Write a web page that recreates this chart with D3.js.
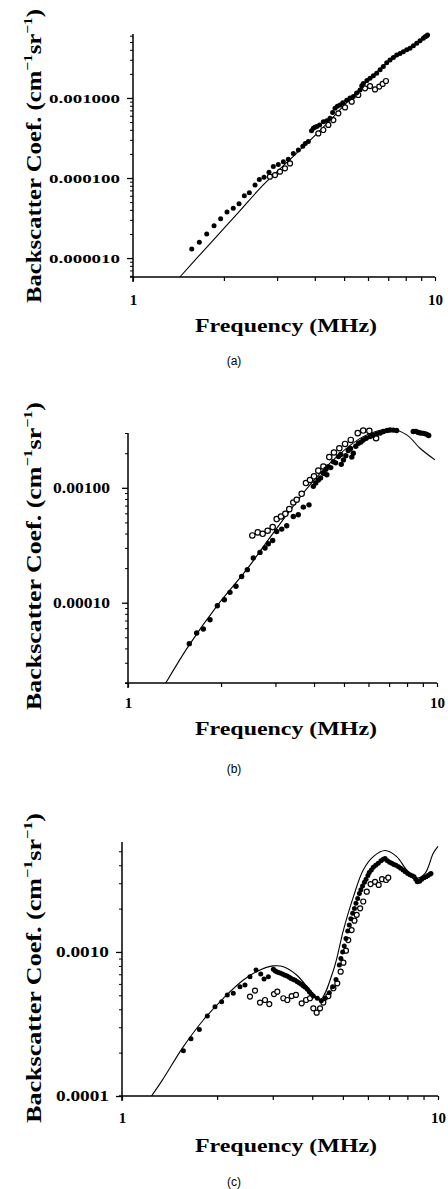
<!DOCTYPE html>
<html>
<head>
<meta charset="utf-8">
<script src="https://cdn.jsdelivr.net/npm/d3@7"></script>
<style>
  html, body { margin: 0; padding: 0; background: #fff; }
  svg { display: block; }
</style>
</head>
<body>
<svg id="chart" width="448" height="1189"></svg>
<script>
// ---------------- DATA ----------------
// Panel (a)
const fitFreqA = [1.43, 1.8, 2.2, 2.7, 3.2, 3.8, 4.5, 5.2, 6.0, 7.0, 8.0, 9.6];
const fitCoefA = [5.8e-6, 1.52e-5, 3.49e-5, 8.2e-5, 1.51e-4, 2.8e-4, 5.3e-4, 9.5e-4, 1.65e-3, 2.85e-3, 3.9e-3, 6.1e-3];
const filledFreqA = [1.565, 1.658, 1.754, 1.855, 1.951, 2.048, 2.148, 2.244, 2.337, 2.428, 2.535, 2.62, 2.716, 2.82, 2.915, 3.028, 3.146, 3.268, 3.396, 3.527, 3.65, 3.72, 3.807, 3.9, 3.955, 4.0, 4.058, 4.15, 4.268, 4.38, 4.49, 4.58, 4.666, 4.75, 4.846, 4.95, 5.1, 5.23, 5.366, 5.5, 5.646, 5.72, 5.791, 5.95, 6.093, 6.25, 6.41, 6.58, 6.745, 6.92, 7.096, 7.28, 7.466, 7.66, 7.855, 8.06, 8.264, 8.48, 8.7, 8.92, 9.15, 9.27, 9.38, 9.45];
const filledCoefA = [1.30e-5, 1.58e-5, 2.0e-5, 2.54e-5, 3.10e-5, 3.76e-5, 4.18e-5, 4.78e-5, 6.0e-5, 6.56e-5, 8.2e-5, 9.6e-5, 1.02e-4, 1.18e-4, 1.39e-4, 1.48e-4, 1.60e-4, 1.71e-4, 2.03e-4, 2.24e-4, 2.5e-4, 2.7e-4, 2.85e-4, 3.9e-4, 4.18e-4, 4.3e-4, 4.39e-4, 4.6e-4, 5.06e-4, 5.2e-4, 5.57e-4, 6.6e-4, 7.43e-4, 7.9e-4, 8.2e-4, 8.7e-4, 9.4e-4, 1.0e-3, 1.04e-3, 1.15e-3, 1.26e-3, 1.42e-3, 1.52e-3, 1.65e-3, 1.76e-3, 1.9e-3, 2.03e-3, 2.25e-3, 2.47e-3, 2.75e-3, 2.99e-3, 3.2e-3, 3.45e-3, 3.6e-3, 3.79e-3, 4.0e-3, 4.18e-3, 4.5e-3, 4.82e-3, 5.2e-3, 5.57e-3, 5.8e-3, 5.96e-3, 6.1e-3];
const openFreqA = [2.84, 2.953, 3.067, 3.186, 3.311, 4.109, 4.268, 4.435, 4.607, 4.786, 5.035, 5.30, 5.573, 5.865, 6.093, 6.33, 6.54, 6.71, 6.88];
const openCoefA = [1.04e-4, 1.09e-4, 1.20e-4, 1.32e-4, 1.52e-4, 3.61e-4, 3.98e-4, 4.6e-4, 5.3e-4, 6.43e-4, 7.63e-4, 9.0e-4, 1.09e-3, 1.32e-3, 1.41e-3, 1.28e-3, 1.39e-3, 1.50e-3, 1.63e-3];
const yTicksA = [1e-5, 1e-4, 1e-3];
const yTickLabelsA = ["0.000010", "0.000100", "0.001000"];

// Panel (b)
const fitFreqB = [1.325, 1.567, 1.936, 2.42, 2.95, 3.88, 4.74, 5.77, 7.04, 7.98, 8.81, 9.85];
const fitCoefB = [2.0e-5, 4.17e-5, 9.3e-5, 1.94e-4, 4.03e-4, 1.06e-3, 1.87e-3, 2.79e-3, 3.25e-3, 2.89e-3, 2.21e-3, 1.75e-3];
const filledFreqB = [1.579, 1.668, 1.753, 1.843, 1.946, 2.05, 2.138, 2.236, 2.333, 2.433, 2.544, 2.674, 2.776, 2.846, 2.939, 3.028, 3.144, 3.263, 3.428, 3.557, 3.693, 3.853, 3.98, 4.05, 4.13, 4.2, 4.29, 4.37, 4.4, 4.45, 4.53, 4.62, 4.7, 4.80, 4.88, 4.9, 4.98, 5.07, 5.16, 5.25, 5.3, 5.36, 5.46, 5.57, 5.67, 5.77, 5.9, 6.07, 6.2, 6.38, 6.55, 6.71, 6.9, 7.05, 7.22, 7.40, 8.38, 8.55, 8.70, 8.85, 9.03, 9.18, 9.33, 9.4];
const filledCoefB = [4.40e-5, 5.45e-5, 5.9e-5, 7.1e-5, 9.4e-5, 1.06e-4, 1.23e-4, 1.39e-4, 1.69e-4, 1.94e-4, 2.45e-4, 2.74e-4, 2.99e-4, 3.26e-4, 3.48e-4, 4.17e-4, 4.37e-4, 4.67e-4, 5.63e-4, 5.82e-4, 6.79e-4, 7.11e-4, 1.03e-3, 1.1e-3, 1.17e-3, 1.22e-3, 1.34e-3, 1.45e-3, 1.3e-3, 1.53e-3, 1.5e-3, 1.69e-3, 1.65e-3, 1.87e-3, 1.95e-3, 1.6e-3, 1.75e-3, 1.9e-3, 2.11e-3, 2.2e-3, 1.85e-3, 2.0e-3, 2.3e-3, 2.44e-3, 2.5e-3, 2.61e-3, 2.7e-3, 2.79e-3, 2.85e-3, 2.95e-3, 3.0e-3, 3.09e-3, 3.15e-3, 3.19e-3, 3.18e-3, 3.15e-3, 3.09e-3, 3.1e-3, 3.03e-3, 3.0e-3, 2.98e-3, 2.95e-3, 2.89e-3, 2.85e-3];
const openFreqB = [2.526, 2.629, 2.728, 2.831, 2.939, 3.028, 3.127, 3.23, 3.327, 3.428, 3.515, 3.648, 3.767, 3.882, 4.0, 4.13, 4.29, 4.48, 4.64, 4.83, 5.04, 5.26, 5.54, 5.77, 6.04, 6.35];
const openCoefB = [3.85e-4, 4.09e-4, 3.98e-4, 4.23e-4, 4.55e-4, 5.34e-4, 5.63e-4, 5.94e-4, 6.52e-4, 7.45e-4, 7.87e-4, 8.87e-4, 1.10e-3, 1.17e-3, 1.26e-3, 1.41e-3, 1.53e-3, 1.85e-3, 2.03e-3, 2.21e-3, 2.41e-3, 2.61e-3, 2.99e-3, 3.15e-3, 3.13e-3, 2.70e-3];
const yTicksB = [1e-4, 1e-3];
const yTickLabelsB = ["0.00010", "0.00100"];

// Panel (c)
const fitFreqC = [1.24, 1.345, 1.564, 1.809, 2.093, 2.421, 2.734, 3.013, 3.24, 3.57, 3.93, 4.23, 4.67, 5.02, 5.40, 5.80, 6.24, 6.80, 7.40, 7.96, 8.56, 9.10, 9.66, 10.0];
const fitCoefC = [1.0e-4, 1.30e-4, 2.20e-4, 3.37e-4, 4.77e-4, 6.39e-4, 7.5e-4, 8.0e-4, 7.9e-4, 6.92e-4, 5.45e-4, 4.64e-4, 7.5e-4, 1.42e-3, 2.42e-3, 3.71e-3, 4.59e-3, 5.06e-3, 4.59e-3, 3.71e-3, 3.25e-3, 3.51e-3, 4.84e-3, 5.4e-3];
const filledFreqC = [1.564, 1.653, 1.757, 1.862, 1.969, 2.067, 2.154, 2.25, 2.362, 2.45, 2.541, 2.655, 2.748, 2.815, 2.905, 3.013, 3.05, 3.087, 3.13, 3.178, 3.23, 3.281, 3.33, 3.384, 3.43, 3.485, 3.53, 3.588, 3.64, 3.694, 3.75, 3.803, 3.86, 3.916, 3.97, 4.032, 4.151, 4.273, 4.4, 4.53, 4.642, 4.756, 4.873, 4.93, 4.992, 5.05, 5.115, 5.18, 5.24, 5.3, 5.37, 5.44, 5.5, 5.57, 5.64, 5.7, 5.77, 5.85, 5.92, 6.0, 6.06, 6.15, 6.24, 6.35, 6.47, 6.6, 6.71, 6.8, 6.92, 7.03, 7.14, 7.25, 7.36, 7.5, 7.62, 7.75, 7.88, 8.02, 8.15, 8.28, 8.4, 8.5, 8.6, 8.75, 8.88, 9.02, 9.16, 9.3, 9.43, 9.5];
const filledCoefC = [2.06e-4, 2.50e-4, 2.90e-4, 3.59e-4, 4.17e-4, 4.52e-4, 5.03e-4, 5.16e-4, 5.74e-4, 5.9e-4, 6.74e-4, 7.5e-4, 7.03e-4, 6.49e-4, 6.74e-4, 7.58e-4, 7.4e-4, 7.3e-4, 7.2e-4, 7.11e-4, 7.0e-4, 6.89e-4, 6.8e-4, 6.67e-4, 6.55e-4, 6.45e-4, 6.35e-4, 6.22e-4, 6.1e-4, 5.96e-4, 5.8e-4, 5.68e-4, 5.5e-4, 5.3e-4, 5.1e-4, 4.95e-4, 4.77e-4, 4.59e-4, 4.77e-4, 5.22e-4, 5.74e-4, 6.45e-4, 8.12e-4, 9.0e-4, 1.0e-3, 1.1e-3, 1.24e-3, 1.4e-3, 1.54e-3, 1.7e-3, 1.86e-3, 2.0e-3, 2.18e-3, 2.35e-3, 2.55e-3, 2.7e-3, 2.87e-3, 3.05e-3, 3.2e-3, 3.4e-3, 3.56e-3, 3.7e-3, 3.87e-3, 4.0e-3, 4.13e-3, 4.3e-3, 4.4e-3, 4.45e-3, 4.29e-3, 4.2e-3, 4.13e-3, 4.05e-3, 4.0e-3, 3.9e-3, 3.81e-3, 3.7e-3, 3.61e-3, 3.5e-3, 3.43e-3, 3.38e-3, 3.33e-3, 3.2e-3, 3.07e-3, 3.1e-3, 3.2e-3, 3.28e-3, 3.33e-3, 3.4e-3, 3.46e-3, 3.5e-3];
const openFreqC = [2.541, 2.636, 2.734, 2.835, 2.925, 3.027, 3.101, 3.24, 3.336, 3.443, 3.553, 3.703, 3.823, 3.934, 4.032, 4.131, 4.234, 4.336, 4.498, 4.666, 4.8, 4.92, 5.02, 5.115, 5.2, 5.33, 5.44, 5.53, 5.67, 5.8, 5.95, 6.12, 6.32, 6.49, 6.65, 6.85, 6.96];
const openCoefC = [4.9e-4, 5.39e-4, 4.45e-4, 4.64e-4, 4.35e-4, 5.1e-4, 5.3e-4, 4.77e-4, 4.64e-4, 4.94e-4, 5.03e-4, 4.4e-4, 4.64e-4, 4.77e-4, 4.06e-4, 3.79e-4, 4.06e-4, 4.45e-4, 4.94e-4, 5.6e-4, 6.06e-4, 7.3e-4, 8.43e-4, 1.02e-3, 1.21e-3, 1.42e-3, 1.65e-3, 1.81e-3, 2.01e-3, 2.24e-3, 2.62e-3, 2.96e-3, 3.07e-3, 2.92e-3, 3.2e-3, 3.16e-3, 3.28e-3];
const yTicksC = [1e-4, 1e-3];
const yTickLabelsC = ["0.0001", "0.0010"];

const xTicks = [1, 2, 3, 4, 5, 6, 7, 8, 9, 10];
const xTickLabels = {1: "1", 10: "10"};
const xTitle = "Frequency (MHz)";
const panelLabels = ["(a)", "(b)", "(c)"];

// ---------------- DRAW ----------------
const svg = d3.select("#chart");
const serif = "'Liberation Serif', 'Times New Roman', serif";

const panels = [
  { fitF: fitFreqA, fitC: fitCoefA, fF: filledFreqA, fC: filledCoefA, oF: openFreqA, oC: openCoefA,
    yt: yTicksA, ytl: yTickLabelsA, yDom: [5.8e-6, 6.3e-3],
    x0: 133, x1: 435, yTop: 34, yBot: 277, labelRight: 120, labelFont: 12, labelLen: 71,
    titleX: 41, titleY: 156, titleLen: 294, xTitleY: 332, xLabY: 305, panelY: 365, r: 2.5 },
  { fitF: fitFreqB, fitC: fitCoefB, fF: filledFreqB, fC: filledCoefB, oF: openFreqB, oC: openCoefB,
    yt: yTicksB, ytl: yTickLabelsB, yDom: [2.0e-5, 3.0e-3],
    x0: 128, x1: 437, yTop: 433, yBot: 683, labelRight: 110, labelFont: 14, labelLen: 57,
    titleX: 41, titleY: 556, titleLen: 308, xTitleY: 735, xLabY: 708, panelY: 773, r: 2.7 },
  { fitF: fitFreqC, fitC: fitCoefC, fF: filledFreqC, fC: filledCoefC, oF: openFreqC, oC: openCoefC,
    yt: yTicksC, ytl: yTickLabelsC, yDom: [1e-4, 5.8e-3],
    x0: 122, x1: 438, yTop: 842, yBot: 1096, labelRight: 109, labelFont: 14, labelLen: 53,
    titleX: 41, titleY: 968, titleLen: 310, xTitleY: 1152, xLabY: 1123, panelY: 1186, r: 2.5 }
];

panels.forEach((p, i) => {
  const x = d3.scaleLog().domain([1, 10]).range([p.x0, p.x1]);
  const y = d3.scaleLog().domain(p.yDom).range([p.yBot, p.yTop]);
  const g = svg.append("g");

  // minor y ticks
  const allY = y.ticks().filter(v => v >= p.yDom[0] && v <= p.yDom[1]);
  const minorY = allY.filter(v => !p.yt.some(t => Math.abs(t - v) / t < 1e-6));
  g.append("g").attr("transform", `translate(${p.x0},0)`)
    .call(d3.axisLeft(y).tickValues(minorY).tickSize(3).tickSizeOuter(0).tickFormat(""))
    .call(s => s.select(".domain").remove())
    .call(s => s.selectAll("line").attr("stroke", "#000").attr("stroke-width", 1));
  // major y ticks + labels
  g.append("g").attr("transform", `translate(${p.x0},0)`)
    .call(d3.axisLeft(y).tickValues(p.yt).tickSize(6).tickSizeOuter(0)
      .tickFormat((d, j) => p.ytl[j]))
    .call(s => s.select(".domain").remove())
    .call(s => s.selectAll("line").attr("stroke", "#000").attr("stroke-width", 1.3))
    .call(s => s.selectAll("text")
      .attr("x", p.labelRight - p.x0)
      .attr("dy", "0.35em")
      .attr("text-anchor", "end")
      .attr("font-family", serif).attr("font-weight", "bold")
      .attr("font-size", p.labelFont).attr("fill", "#000")
      .attr("textLength", p.labelLen).attr("lengthAdjust", "spacingAndGlyphs"));

  // x axis ticks
  g.append("g").attr("transform", `translate(0,${p.yBot})`)
    .call(d3.axisBottom(x).tickValues(xTicks).tickSize(4).tickSizeOuter(0)
      .tickFormat(d => xTickLabels[d] || ""))
    .call(s => s.select(".domain").remove())
    .call(s => s.selectAll("line").attr("stroke", "#000").attr("stroke-width", 1.2))
    .call(s => s.selectAll("text")
      .attr("y", p.xLabY - p.yBot).attr("dy", 0)
      .attr("font-family", serif).attr("font-weight", "bold")
      .attr("font-size", 15).attr("fill", "#000"));

  // axis lines (crossing)
  g.append("line").attr("x1", p.x0 - 3).attr("x2", p.x1).attr("y1", p.yBot).attr("y2", p.yBot)
    .attr("stroke", "#000").attr("stroke-width", 1.5);
  g.append("line").attr("x1", p.x0).attr("x2", p.x0).attr("y1", p.yTop).attr("y2", p.yBot + 5)
    .attr("stroke", "#000").attr("stroke-width", 1.5);

  // fit curve
  const fit = p.fitF.map((f, j) => [f, p.fitC[j]]);
  g.append("path").datum(fit)
    .attr("d", d3.line().x(d => x(d[0])).y(d => y(d[1])).curve(d3.curveCatmullRom.alpha(0.5)))
    .attr("fill", "none").attr("stroke", "#000").attr("stroke-width", 1.1);

  // open circles
  const open = p.oF.map((f, j) => [f, p.oC[j]]);
  g.append("g").selectAll("circle").data(open).join("circle")
    .attr("cx", d => x(d[0])).attr("cy", d => y(d[1])).attr("r", p.r)
    .attr("fill", "#fff").attr("stroke", "#000").attr("stroke-width", 1.2);

  // filled circles
  const filled = p.fF.map((f, j) => [f, p.fC[j]]);
  g.append("g").selectAll("circle").data(filled).join("circle")
    .attr("cx", d => x(d[0])).attr("cy", d => y(d[1])).attr("r", p.r)
    .attr("fill", "#000");

  // y title
  const yt = g.append("text")
    .attr("transform", `translate(${p.titleX},${p.titleY}) rotate(-90)`)
    .attr("text-anchor", "middle")
    .attr("font-family", serif).attr("font-weight", "bold").attr("font-size", 21)
    .attr("textLength", p.titleLen).attr("lengthAdjust", "spacingAndGlyphs")
    .attr("fill", "#000");
  yt.append("tspan").text("Backscatter Coef. (cm");
  yt.append("tspan").attr("font-size", 13).attr("dy", -9).text("−1");
  yt.append("tspan").attr("dy", 9).text("sr");
  yt.append("tspan").attr("font-size", 13).attr("dy", -9).text("−1");
  yt.append("tspan").attr("dy", 9).text(")");

  // x title
  g.append("text").attr("x", 286).attr("y", p.xTitleY)
    .attr("text-anchor", "middle")
    .attr("font-family", serif).attr("font-weight", "bold").attr("font-size", 19)
    .attr("textLength", 182).attr("lengthAdjust", "spacingAndGlyphs")
    .attr("fill", "#000").text(xTitle);

  // panel label
  g.append("text").attr("x", 234).attr("y", p.panelY)
    .attr("text-anchor", "middle")
    .attr("font-family", "'Liberation Sans', Arial, sans-serif").attr("font-size", 12)
    .attr("fill", "#000").text(panelLabels[i]);
});
</script>
</body>
</html>
